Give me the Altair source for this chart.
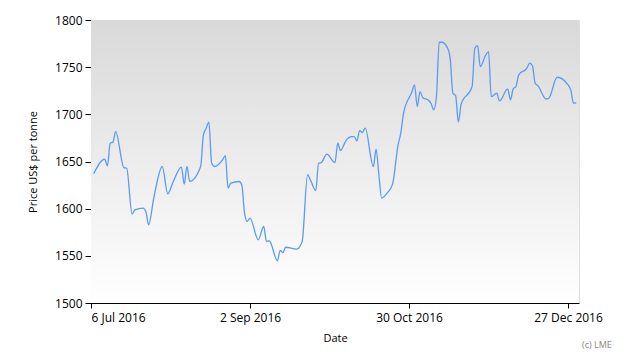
import altair as alt
import pandas as pd

# days after 6 Jul 2016, and LME price (US$ per tonne)
day_offsets = [1, 5, 6, 7, 8, 9, 12, 13, 15, 16, 19, 20, 21, 23, 26, 28, 30, 33, 34, 35,
               36, 40, 41, 42, 43, 44, 45, 48, 49, 50, 51, 54, 55, 56, 57, 58, 61, 63, 64, 65,
               68, 69, 70, 71, 75, 77, 79, 80, 82, 83, 84, 86, 89, 90, 91, 93, 95, 96, 97, 98,
               99, 100, 103, 104, 105, 106, 108, 110, 112, 113, 114, 117, 118, 119, 120, 121, 123, 124, 125, 126,
               127, 128, 130, 131, 132, 133, 134, 135, 139, 140, 141, 142, 144, 145, 146, 148, 149, 152, 153, 154,
               155, 156, 159, 160, 161, 162, 163, 166, 167, 170, 174, 175, 176, 177]
prices = [1637, 1652.5, 1645.4, 1669.4, 1670.5, 1681.7, 1643.6, 1643.0, 1594.2, 1598.8, 1600.6, 1597.0, 1582.9, 1612.9, 1644.7, 1615.7, 1628.8, 1644.0, 1626.0, 1644.7,
          1628.8, 1644.7, 1678.2, 1685.3, 1691.7, 1648.3, 1644.7, 1651.8, 1656.3, 1621.8, 1627.1, 1628.8, 1625.3, 1595.3, 1586.4, 1590.0, 1567.0, 1581.1, 1565.2, 1566.0,
          1544.8, 1555.7, 1553.3, 1559.1, 1557.2, 1565.0, 1636.0, 1630.6, 1619.2, 1648.3, 1648.9, 1657.8, 1648.9, 1669.4, 1661.6, 1672.2, 1676.4, 1676.4, 1671.9, 1682.8,
          1680.7, 1685.3, 1644.7, 1663.1, 1636.0, 1611.2, 1616.5, 1626.0, 1667.6, 1680.0, 1701.2, 1723.4, 1731.2, 1708.2, 1724.1, 1717.7, 1715.3, 1711.8, 1704.7, 1718.8,
          1776.4, 1776.4, 1770.7, 1759.5, 1722.4, 1719.8, 1691.7, 1710.7, 1729.4, 1770.0, 1772.8, 1750.6, 1763.0, 1766.4, 1718.8, 1722.4, 1714.2, 1727.0, 1715.3, 1727.0,
          1729.4, 1741.8, 1748.9, 1754.2, 1751.6, 1733.0, 1730.4, 1716.3, 1717.1, 1739.3, 1731.2, 1725.9, 1711.8, 1712.5]

y_ticks = [1500, 1550, 1600, 1650, 1700, 1750, 1800]
x_tick_dates = ["2016-07-06", "2016-09-02", "2016-10-30", "2016-12-27"]

start = pd.Timestamp("2016-07-06")
df = pd.DataFrame({
    "date": [(start + pd.Timedelta(days=d)).strftime("%Y-%m-%d") for d in day_offsets],
    "price": prices,
})

W, H = 488, 283
FONT = "Open Sans"

bg = alt.Chart(pd.DataFrame({"a": [0]})).mark_rect(
    fill=alt.Gradient(
        gradient="linear",
        stops=[alt.GradientStop(color="#d9d9d9", offset=0),
               alt.GradientStop(color="#ffffff", offset=1)],
        x1=0, x2=0, y1=0, y2=1,
    )
).encode(x=alt.value(0), x2=alt.value(W), y=alt.value(0), y2=alt.value(H))

tick_vals = [alt.DateTime(year=int(s[:4]), month=int(s[5:7]), date=int(s[8:]), utc=True) for s in x_tick_dates]

line = alt.Chart(df).mark_line(
    color="#5b9bf0", strokeWidth=1.3, interpolate="monotone"
).encode(
    x=alt.X("date:T",
            scale=alt.Scale(type="utc",
                            domain=[alt.DateTime(year=2016, month=7, date=6, utc=True),
                                    alt.DateTime(year=2016, month=12, date=31, utc=True)]),
            axis=alt.Axis(values=tick_vals, labelExpr="utcFormat(datum.value, '%-d %b %Y')",
                          title="Date", grid=False, domainColor="black", tickColor="black",
                          tickSize=5, labelColor="black", labelFontSize=12, labelFont=FONT,
                          labelPadding=4, titleFont=FONT, titleFontSize=11,
                          titleFontWeight="normal", titleColor="black", titlePadding=9,
                          labelOverlap=False)),
    y=alt.Y("price:Q",
            scale=alt.Scale(domain=[1500, 1800], nice=False, zero=False),
            axis=alt.Axis(values=y_ticks, title="Price US$ per tonne", grid=False,
                          domainColor="black", tickColor="black", tickSize=6,
                          labelColor="black", labelFontSize=12, labelFont=FONT, labelPadding=3,
                          titleFont=FONT, titleFontSize=11, titleFontWeight="normal",
                          titleColor="black", titlePadding=16, format="d")),
)

credit = alt.Chart(pd.DataFrame({"t": ["(c) LME"]})).mark_text(
    align="left", baseline="middle", fontSize=9, color="#888888", font=FONT
).encode(text="t:N", x=alt.value(W + 3), y=alt.value(H + 42))

chart = alt.layer(bg, line, credit).properties(
    width=W, height=H,
    autosize=alt.AutoSizeParams(type="none"),
    padding={"left": 83, "top": 12, "right": 43, "bottom": 49},
).configure_view(stroke=None).configure(background="white")

chart.save("out.html", embed_options={"renderer": "svg", "actions": False})
